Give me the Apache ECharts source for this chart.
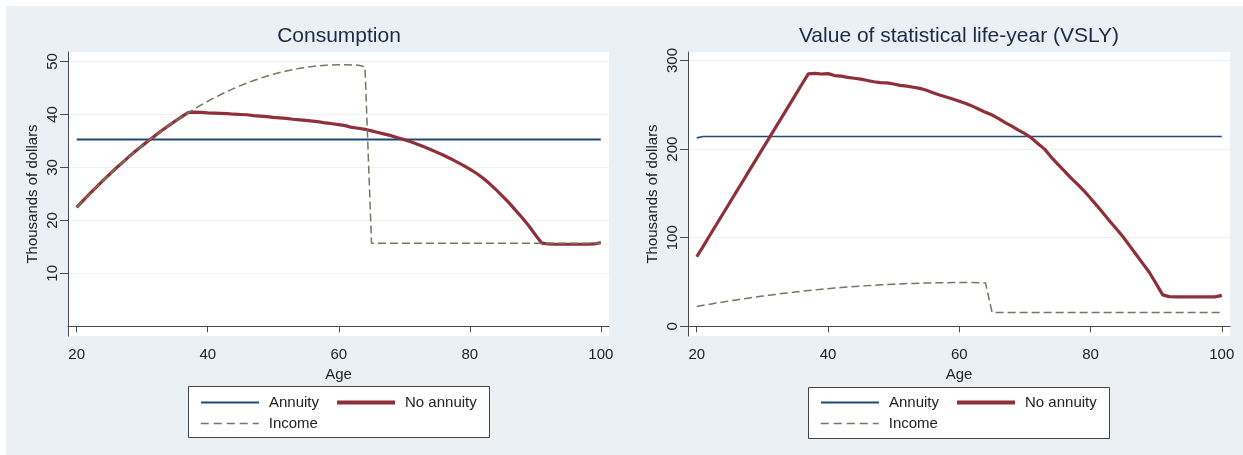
<!DOCTYPE html>
<html><head><meta charset="utf-8">
<script src="https://cdn.jsdelivr.net/npm/echarts@6/dist/echarts.min.js"></script>
<style>html,body{margin:0;padding:0;background:#fff}#c{width:1243px;height:455px}</style>
</head><body><div id="c"></div>
<script>
// ---------- data ----------
const ages = [20,21,22,23,24,25,26,27,28,29,30,31,32,33,34,35,36,37,38,39,40,41,42,43,44,45,46,47,48,49,50,
  51,52,53,54,55,56,57,58,59,60,61,62,63,64,65,66,67,68,69,70,71,72,73,74,75,76,77,78,79,80,
  81,82,83,84,85,86,87,88,89,90,91,92,93,94,95,96,97,98,99,100];

// Income (thousands of dollars), ages 20..100
const income = [22.45,23.77,25.05,26.30,27.51,28.69,29.84,30.96,32.05,33.10,34.12,35.10,36.05,36.97,37.86,38.72,39.54,40.33,41.08,41.81,
  42.50,43.15,43.78,44.37,44.93,45.45,45.95,46.41,46.83,47.23,47.59,47.92,48.21,48.48,48.71,48.90,49.07,49.20,49.30,49.36,
  49.40,49.40,49.36,49.30,49.00,
  15.7,15.7,15.7,15.7,15.7,15.7,15.7,15.7,15.7,15.7,15.7,15.7,15.7,15.7,15.7,15.7,15.7,15.7,
  15.7,15.7,15.7,15.7,15.7,15.7,15.7,15.7,15.7,15.7,15.7,15.7,15.7,15.7,15.7,15.7,15.7,15.7];

// Consumption without annuity, ages 20..100
const consNoAnnuity = [22.45,23.77,25.05,26.30,27.51,28.69,29.84,30.96,32.05,33.10,34.12,35.10,36.05,36.97,37.86,38.72,39.54,40.38,
  40.45,40.40,40.30,40.25,40.20,40.15,40.05,40.00,39.95,39.80,39.70,39.60,39.45,39.35,39.25,39.10,39.00,38.90,38.75,38.60,38.40,38.25,
  38.10,37.90,37.55,37.40,37.20,36.90,36.60,36.30,36.00,35.60,35.25,34.85,34.40,33.90,33.40,32.85,32.30,31.70,31.05,30.40,
  29.70,28.90,28.00,26.95,25.80,24.60,23.30,21.90,20.50,19.00,17.30,15.70,15.55,15.50,15.50,15.50,15.50,15.50,15.50,15.55,15.80];

// VSLY without annuity, ages 20..100
const vslyNoAnnuity = [78.5,90.6,102.8,114.9,127.1,139.2,151.4,163.5,175.7,187.8,200.0,212.1,224.3,236.4,248.6,260.7,272.9,285.0,
  285.5,284.8,285.2,283.0,282.3,281.0,280.0,279.0,277.5,276.0,275.0,274.8,273.5,272.0,271.0,269.8,268.5,266.5,263.5,261.0,258.8,256.5,
  254.0,251.5,248.5,245.0,241.5,238.5,234.5,230.0,226.0,221.5,217.5,212.5,206.0,200.0,191.0,183.0,175.5,167.5,160.5,153.0,
  144.5,136.0,127.0,118.0,109.5,100.5,90.5,80.5,70.5,60.5,48.0,35.5,33.5,33.3,33.3,33.3,33.3,33.3,33.3,33.3,35.0];

// Annuity (flat)
const annuityAgesLeft = [20, 100];
const consAnnuity = [35.3, 35.3];
const annuityAgesRight = [20, 21, 100];
const vslyAnnuity = [212.7, 214.2, 214.2];

const xTicks = [20, 40, 60, 80, 100];
const yTicksLeft = [10, 20, 30, 40, 50];
const yTicksRight = [0, 100, 200, 300];

const titles = ['Consumption', 'Value of statistical life-year (VSLY)'];
const yName = 'Thousands of dollars';
const xName = 'Age';

// ---------- chart ----------
function pairs(xs, ys) { return xs.map((x, i) => [x, ys[i]]); }
const FONT = '"Liberation Sans", Arial, sans-serif';
const AX = '#4a4a4a';
const TXT = '#222';
const NAVY = '#1f4a75';
const MAROON = '#8f2f38';
const OLIVE = '#6f7a5e';
const GRIDC = '#edf2f4';

function xAxis(gi) {
  return {
    type: 'value', gridIndex: gi, min: 18.67, max: 101.25,
    name: xName, nameLocation: 'middle', nameGap: 25,
    nameTextStyle: { fontFamily: FONT, fontSize: 15, color: TXT },
    axisLine: { show: true, lineStyle: { color: AX, width: 1 } },
    axisTick: { show: true, length: 6, customValues: xTicks, lineStyle: { color: AX } },
    axisLabel: { customValues: xTicks, margin: 11, fontFamily: FONT, fontSize: 15, color: TXT },
    splitLine: { show: false }
  };
}
function yAxis(gi, min, max, ticks) {
  return {
    type: 'value', gridIndex: gi, min: min, max: max,
    name: yName, nameLocation: 'middle', nameGap: 28, nameRotate: 90,
    nameTextStyle: { fontFamily: FONT, fontSize: 15, color: TXT },
    axisLine: { show: true, lineStyle: { color: AX, width: 1 } },
    axisTick: { show: true, length: 8, customValues: ticks, lineStyle: { color: AX } },
    axisLabel: { customValues: ticks, rotate: 90, margin: 8, fontFamily: FONT, fontSize: 15, color: TXT },
    splitLine: { show: true, lineStyle: { color: GRIDC, width: 1 } }
  };
}
function lineSeries(name, gi, data, color, width, dashed, z) {
  return {
    type: 'line', name: name, xAxisIndex: gi, yAxisIndex: gi, data: data,
    showSymbol: false, symbol: 'none', animation: false, z: z,
    lineStyle: { color: color, width: width, type: dashed ? [8, 4] : 'solid' },
    itemStyle: { color: color }
  };
}
function legends(left) {
  const common = {
    itemWidth: 58, itemHeight: 14, itemGap: 16, orient: 'horizontal',
    textStyle: { fontFamily: FONT, fontSize: 15, color: TXT, padding: [0, 0, 0, 5] },
    itemStyle: { color: 'transparent', borderColor: 'transparent', borderWidth: 0, opacity: 0 },
    selectedMode: false
  };
  return [
    Object.assign({}, common, {
      data: [
        { name: 'Annuity', lineStyle: { width: 2, color: NAVY } },
        { name: 'No annuity', lineStyle: { width: 4, color: MAROON } }
      ], left: left, top: 390 }),
    Object.assign({}, common, {
      data: [{ name: 'Income', lineStyle: { width: 1.5, color: OLIVE, type: [8, 5] } }], left: left, top: 411 })
  ];
}

const chart = echarts.init(document.getElementById('c'));
chart.setOption({
  backgroundColor: 'transparent',
  animation: false,
  graphic: [
    { type: 'rect', z: -100, shape: { x: 6, y: 6, width: 1237, height: 449 }, style: { fill: '#eaf0f3' } },
    { type: 'rect', z: 1, shape: { x: 188.5, y: 386.5, width: 301, height: 51 }, style: { fill: '#fff', stroke: '#444', lineWidth: 1 } },
    { type: 'rect', z: 1, shape: { x: 808.5, y: 387.5, width: 301, height: 51 }, style: { fill: '#fff', stroke: '#444', lineWidth: 1 } },
    { type: 'text', x: 339, y: 36, style: { text: titles[0], textAlign: 'center', textVerticalAlign: 'middle', font: '21px ' + FONT, fill: '#1c2a48' } },
    { type: 'text', x: 959, y: 36, style: { text: titles[1], textAlign: 'center', textVerticalAlign: 'middle', font: '21px ' + FONT, fill: '#1c2a48' } }
  ],
  grid: [
    { left: 68, top: 52, width: 541, height: 284, show: true, backgroundColor: '#fff', borderWidth: 0 },
    { left: 688, top: 52, width: 542, height: 284, show: true, backgroundColor: '#fff', borderWidth: 0 }
  ],
  xAxis: [xAxis(0), xAxis(1)],
  yAxis: [yAxis(0, -1.83, 51.8, yTicksLeft), yAxis(1, -10.9, 309.6, yTicksRight)],
  legend: legends(195).concat(legends(815)),
  series: [
    lineSeries('Annuity', 0, pairs(annuityAgesLeft, consAnnuity), NAVY, 2, false, 2),
    lineSeries('No annuity', 0, pairs(ages, consNoAnnuity), MAROON, 3.2, false, 3),
    lineSeries('Income', 0, pairs(ages, income), OLIVE, 1.5, true, 4),
    lineSeries('Annuity', 1, pairs(annuityAgesRight, vslyAnnuity), NAVY, 1.6, false, 2),
    lineSeries('No annuity', 1, pairs(ages, vslyNoAnnuity), MAROON, 3.2, false, 3),
    lineSeries('Income', 1, pairs(ages, income), OLIVE, 1.5, true, 4)
  ]
});
</script></body></html>
